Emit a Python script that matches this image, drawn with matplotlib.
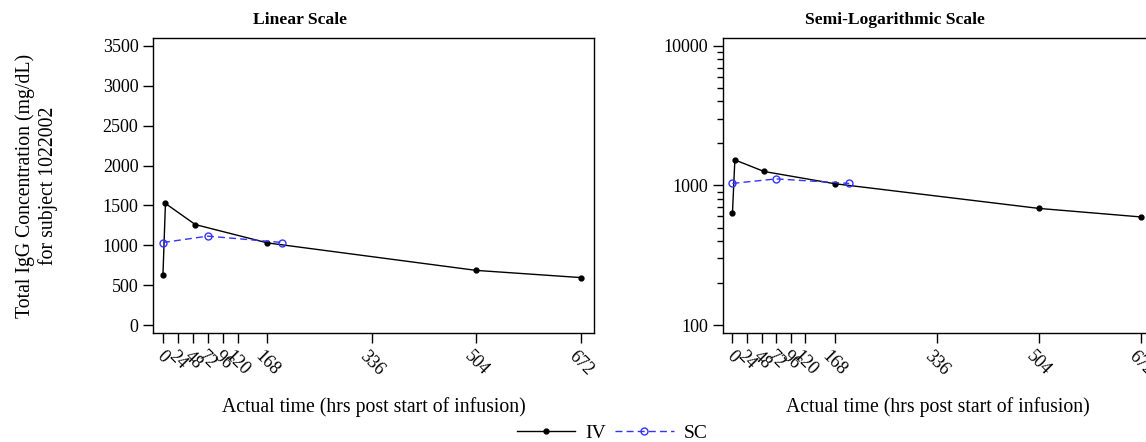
import numpy as np
import matplotlib
matplotlib.use("Agg")
import matplotlib.pyplot as plt
from matplotlib.lines import Line2D
from matplotlib.ticker import FixedLocator, FixedFormatter, NullFormatter

plt.rcParams['font.family'] = ['Liberation Serif', 'DejaVu Serif']

# data
iv_time = [0, 4, 52, 168, 504, 672]
iv_conc = [630, 1525, 1260, 1030, 685, 595]
sc_time = [0, 72, 192]
sc_conc = [1035, 1115, 1035]

xticks = [0, 24, 48, 72, 96, 120, 168, 336, 504, 672]
lin_yticks = [0, 500, 1000, 1500, 2000, 2500, 3000, 3500]
log_yticks = [100, 1000, 10000]
log_minor = [200, 300, 400, 500, 600, 700, 800, 900,
             2000, 3000, 4000, 5000, 6000, 7000, 8000, 9000]

fig = plt.figure(figsize=(11.46, 4.42), dpi=100)
W, H = 1146, 442

def px_axes(left, top, right, bottom):
    return fig.add_axes([left / W, 1 - bottom / H, (right - left) / W, (bottom - top) / H])

ax1 = px_axes(153, 38, 594, 333)
ax2 = px_axes(722.7, 38, 1154, 333)

def draw(ax):
    ax.plot(iv_time, iv_conc, color='black', lw=1.0, marker='o', ms=3.5,
            mfc='black', mec='black')
    ax.plot(sc_time, sc_conc, color='#3333ff', lw=1.0, ls=(0, (5, 3)),
            marker='o', ms=5, mfc='none', mec='#3333ff', mew=1.0)
    ax.set_xlim(-16, 693)
    ax.set_xticks(xticks)
    ax.set_xticklabels([str(t) for t in xticks], rotation=-45, ha='center',
                       va='top', fontsize=13)
    ax.tick_params(axis='both', direction='out', length=7, width=1, color='black',
                   labelsize=13)
    ax.tick_params(axis='x', pad=4)
    for s in ax.spines.values():
        s.set_linewidth(1.0)
    ax.set_xlabel('Actual time (hrs post start of infusion)', fontsize=14.2, labelpad=13)

draw(ax1)
ax1.set_ylim(-100, 3600)
ax1.set_yticks(lin_yticks)
ax1.set_ylabel('Total IgG Concentration (mg/dL)\nfor subject 1022002', fontsize=14.2,
               labelpad=32)

draw(ax2)
ax2.set_yscale('log')
ax2.set_ylim(87.7, 11400)
ax2.yaxis.set_major_locator(FixedLocator(log_yticks))
ax2.yaxis.set_major_formatter(FixedFormatter([str(v) for v in log_yticks]))
ax2.yaxis.set_minor_locator(FixedLocator(log_minor))
ax2.yaxis.set_minor_formatter(NullFormatter())
ax2.tick_params(axis='y', which='minor', length=4, width=1)

fig.text(300 / W, 1 - 20 / H, 'Linear Scale', fontsize=12.6, fontweight='bold',
         ha='center', va='center')
fig.text(805 / W, 1 - 20 / H, 'Semi-Logarithmic Scale', fontsize=12.6,
         fontweight='bold', ha='left', va='center')

handles = [
    Line2D([], [], color='black', lw=1.0, marker='o', ms=3.5, mfc='black'),
    Line2D([], [], color='#3333ff', lw=1.0, ls=(0, (5, 3)), marker='o', ms=5,
           mfc='none', mec='#3333ff'),
]
fig.legend(handles, ['IV', 'SC'], loc='center', bbox_to_anchor=(612 / W, 1 - 433 / H),
           ncol=2, frameon=False, fontsize=14, handlelength=3.0, columnspacing=0.5,
           handletextpad=0.5, borderpad=0)

fig.savefig('out.png', dpi=100)
